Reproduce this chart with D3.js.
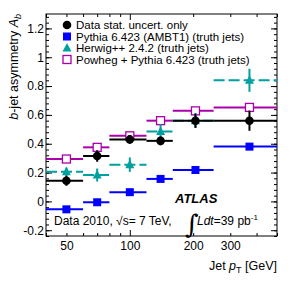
<!DOCTYPE html>
<html>
<head>
<meta charset="utf-8">
<script src="https://cdn.jsdelivr.net/npm/d3@7"></script>
<style>
body{margin:0;background:#fff;}
text{font-family:"Liberation Sans",Arial,sans-serif;}
</style>
</head>
<body>
<main></main>
<script>
// bins in jet pT [GeV]
var binLow = [40, 60, 80, 120, 160, 250];
var binHigh = [60, 80, 120, 160, 250, 500];
var binCenter = [50, 70, 100, 140, 205, 370];

var dataVals = [0.143, 0.315, 0.43, 0.42, 0.56, 0.56];
var dataErr = [0.035, 0.04, 0.03, 0.03, 0.05, 0.07];
var pythiaVals = [-0.055, -0.006, 0.064, 0.156, 0.218, 0.38];
var pythiaErr = [0.01, 0.01, 0.01, 0.01, 0.012, 0.012];
var herwigVals = [0.205, 0.183, 0.255, 0.485, 0.56, 0.84];
var herwigErr = [0.03, 0.045, 0.05, 0.05, 0.05, 0.08];
var powhegVals = [0.294, 0.375, 0.455, 0.56, 0.628, 0.652];
var powhegErr = [0.01, 0.01, 0.01, 0.012, 0.012, 0.015];

var yMajor = [-0.2, 0, 0.2, 0.4, 0.6, 0.8, 1, 1.2];
var xLabels = [50, 100, 200, 300];
var xMinor = [40, 50, 60, 70, 80, 90, 200, 300, 400, 500];

var legendNames = ["Data stat. uncert. only", "Pythia 6.423 (AMBT1) (truth jets)",
  "Herwig++ 2.4.2 (truth jets)", "Powheg + Pythia 6.423 (truth jets)"];

var width = 291, height = 282;
var L = 46, R = 277, T = 14, B = 236;
var cBlue = "#0000ff", cCyan = "#00a0a0", cMag = "#aa00aa";

var svg = d3.select("main").append("svg")
  .attr("width", width).attr("height", height);

var x = d3.scaleLog().domain([40, 500]).range([L, R]);
var y = d3.scaleLinear().domain([-0.24, 1.3]).range([B, T]);

var yMinor = d3.range(-0.24, 1.29, 0.04).map(d => +d.toFixed(2));

function clean(g){ g.select(".domain").remove(); g.selectAll("line").attr("stroke","#000"); }

// y axes
svg.append("g").attr("transform", "translate(" + L + ",0)")
  .call(d3.axisLeft(y).tickValues(yMinor).tickSize(-3).tickFormat("")).call(clean);
svg.append("g").attr("transform", "translate(" + L + ",0)")
  .call(d3.axisLeft(y).tickValues(yMajor).tickSize(-6).tickPadding(2)
    .tickFormat(d => String(+d.toFixed(1))))
  .call(clean)
  .selectAll("text").style("font-size", "12px").attr("fill", "#000");
svg.append("g").attr("transform", "translate(" + R + ",0)")
  .call(d3.axisRight(y).tickValues(yMinor).tickSize(-3).tickFormat("")).call(clean);
svg.append("g").attr("transform", "translate(" + R + ",0)")
  .call(d3.axisRight(y).tickValues(yMajor).tickSize(-6).tickFormat("")).call(clean);

// x axes
svg.append("g").attr("transform", "translate(0," + B + ")")
  .call(d3.axisBottom(x).tickValues(xMinor).tickSize(-3).tickPadding(5)
    .tickFormat(d => xLabels.includes(d) ? d : ""))
  .call(clean)
  .selectAll("text").style("font-size", "12px").attr("fill", "#000");
svg.append("g").attr("transform", "translate(0," + B + ")")
  .call(d3.axisBottom(x).tickValues([100]).tickSize(-6).tickPadding(5).tickFormat(d => d))
  .call(clean)
  .selectAll("text").style("font-size", "12px").attr("fill", "#000");
svg.append("g").attr("transform", "translate(0," + T + ")")
  .call(d3.axisTop(x).tickValues(xMinor).tickSize(-3).tickFormat("")).call(clean);
svg.append("g").attr("transform", "translate(0," + T + ")")
  .call(d3.axisTop(x).tickValues([100]).tickSize(-6).tickFormat("")).call(clean);

svg.append("rect").attr("x", L).attr("y", T).attr("width", R - L).attr("height", B - T)
  .attr("fill", "none").attr("stroke", "#000").attr("stroke-width", 1);

// axis titles
var yt = svg.append("text").attr("transform", "translate(18," + T + ") rotate(-90)")
  .attr("text-anchor", "end").style("font-size", "12.5px");
yt.append("tspan").style("font-style", "italic").text("b");
yt.append("tspan").text("-jet asymmetry ");
yt.append("tspan").style("font-style", "italic").text("A");
yt.append("tspan").attr("dy", 3).style("font-size", "9px").style("font-style", "italic").text("b");

var xt = svg.append("text").attr("x", R).attr("y", 270).attr("text-anchor", "end")
  .style("font-size", "12.5px");
xt.append("tspan").text("Jet ");
xt.append("tspan").style("font-style", "italic").text("p");
xt.append("tspan").attr("dy", 3).style("font-size", "9px").text("T");
xt.append("tspan").attr("dy", -3).text(" [GeV]");

// series drawing
function drawSeries(vals, errs, color, dashed, marker){
  var g = svg.append("g");
  var rows = vals.map((v, i) => ({v: v, e: errs[i], lo: binLow[i], hi: binHigh[i], c: binCenter[i]}));
  g.selectAll(".h").data(rows).enter().append("line")
    .attr("x1", d => x(d.lo)).attr("x2", d => x(d.hi))
    .attr("y1", d => y(d.v)).attr("y2", d => y(d.v))
    .attr("stroke", color).attr("stroke-width", 2)
    .attr("stroke-dasharray", dashed ? "11,4" : null);
  g.selectAll(".v").data(rows).enter().append("line")
    .attr("x1", d => x(d.c)).attr("x2", d => x(d.c))
    .attr("y1", d => y(d.v - d.e)).attr("y2", d => y(d.v + d.e))
    .attr("stroke", color).attr("stroke-width", 2);
  rows.forEach(d => marker(g, x(d.c), y(d.v)));
}

function mCircle(g, cx, cy){ g.append("circle").attr("cx", cx).attr("cy", cy).attr("r", 4.3).attr("fill", "#000"); }
function mSquare(g, cx, cy){ g.append("rect").attr("x", cx - 4).attr("y", cy - 4).attr("width", 8).attr("height", 8).attr("fill", cBlue); }
function mTri(g, cx, cy){ g.append("path").attr("d", `M${cx},${cy - 5}L${cx + 4.5},${cy + 3.5}L${cx - 4.5},${cy + 3.5}Z`).attr("fill", cCyan); }
function mOpen(g, cx, cy){ g.append("rect").attr("x", cx - 4).attr("y", cy - 4).attr("width", 8).attr("height", 8)
  .attr("fill", "#fff").attr("stroke", cMag).attr("stroke-width", 1.3); }

drawSeries(powhegVals, powhegErr, cMag, false, mOpen);
drawSeries(herwigVals, herwigErr, cCyan, true, mTri);
drawSeries(pythiaVals, pythiaErr, cBlue, false, mSquare);
drawSeries(dataVals, dataErr, "#000", false, mCircle);

// legend
var markers = [mCircle, mSquare, mTri, mOpen];
var lg = svg.append("g");
legendNames.forEach((name, i) => {
  var ly = 25 + i * 11.5;
  markers[i](lg, 67, ly);
  lg.append("text").attr("x", 76).attr("y", ly + 4.2).style("font-size", "11.5px").text(name);
});

// labels
svg.append("text").attr("x", 175).attr("y", 203).style("font-size", "13px")
  .style("font-weight", "bold").style("font-style", "italic").text("ATLAS");

var info = svg.append("text").attr("x", 54).attr("y", 225).style("font-size", "12px");
info.append("tspan").text("Data 2010,  \u221As= 7 TeV,");
svg.append("text").attr("x", 185).attr("y", 233).style("font-size", "26px")
  .style("font-family", "DejaVu Serif").style("font-style", "italic").text("\u222B");
var lum = svg.append("text").attr("x", 197).attr("y", 225).style("font-size", "12px");
lum.append("tspan").style("font-style", "italic").text("Ldt");
lum.append("tspan").text("=39 pb");
lum.append("tspan").attr("dy", -5).style("font-size", "8px").text("-1");
</script>
</body>
</html>
